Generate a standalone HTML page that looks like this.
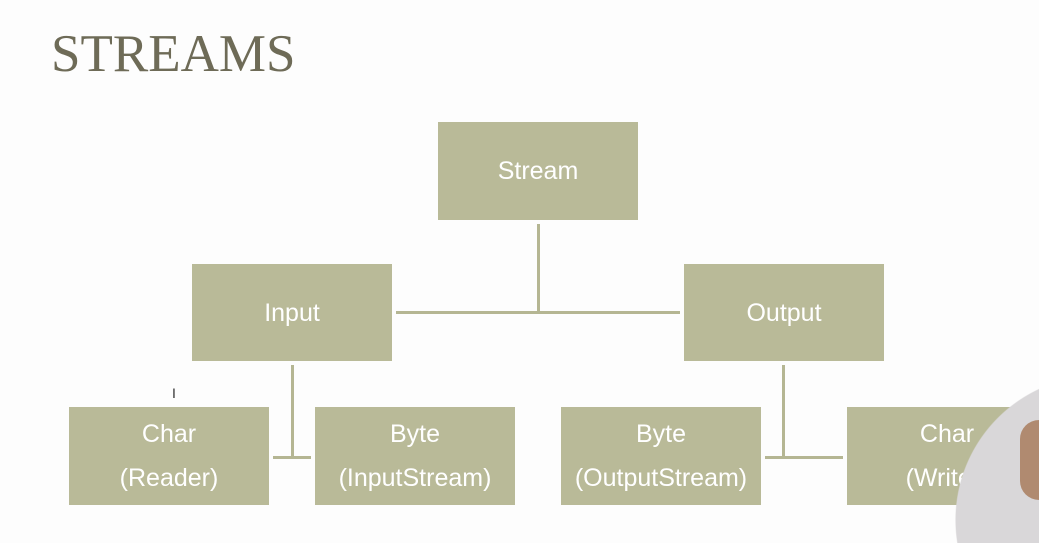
<!DOCTYPE html>
<html><head><style>
html,body{margin:0;width:1039px;height:543px;overflow:hidden}
body{background:#fdfdfd;font-family:"Liberation Sans",sans-serif}
#w{position:relative;width:1039px;height:543px;overflow:hidden}
.t{position:absolute;left:51px;top:24px;font-family:"Liberation Serif",serif;font-size:53px;color:#6e6b57}
.b{position:absolute;width:200px;height:98px;background:#b9ba98;color:#fff;font-size:25px;display:flex;flex-direction:column;align-items:center;justify-content:center;line-height:44px;text-align:center}
.l{position:absolute;background:#b5b693}
</style></head><body><div id="w">
<div class="t">STREAMS</div>
<div class="b" style="left:438px;top:122px">Stream</div>
<div class="b" style="left:192px;top:264px;height:97px">Input</div>
<div class="b" style="left:684px;top:264px;height:97px">Output</div>
<div class="b" style="left:69px;top:407px"><div>Char</div><div>(Reader)</div></div>
<div class="b" style="left:315px;top:407px"><div>Byte</div><div>(InputStream)</div></div>
<div class="b" style="left:561px;top:407px"><div>Byte</div><div>(OutputStream)</div></div>
<div class="b" style="left:847px;top:407px"><div>Char</div><div>(Writer)</div></div>
<div class="l" style="left:537px;top:224px;width:3px;height:89px"></div>
<div class="l" style="left:396px;top:311px;width:284px;height:3px"></div>
<div class="l" style="left:291px;top:365px;width:3px;height:93px"></div>
<div class="l" style="left:273px;top:456px;width:38px;height:3px"></div>
<div class="l" style="left:782px;top:365px;width:3px;height:93px"></div>
<div class="l" style="left:765px;top:456px;width:78px;height:3px"></div>
<div style="position:absolute;left:955px;top:375px;width:84px;height:168px;background:radial-gradient(circle 145px at 145px 145px,#d9d7d9 144px,rgba(217,215,217,0) 145px)"></div>
<div style="position:absolute;left:1020px;top:420px;width:19px;height:80px;border-radius:40px 0 0 40px;background:#b08a70"></div>
<div style="position:absolute;left:172px;top:385px;font-size:14px;line-height:16px;color:#333">I</div>
</div></body></html>
